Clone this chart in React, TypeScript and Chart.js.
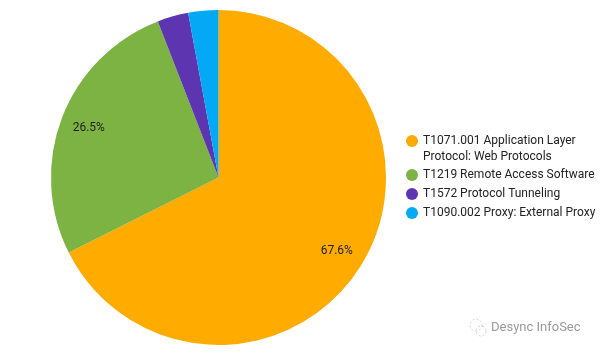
import React, { useEffect, useRef } from "react";
import { Chart, registerables } from "chart.js";

Chart.register(...registerables);

const categories = [
  "T1071.001 Application Layer Protocol: Web Protocols",
  "T1219 Remote Access Software",
  "T1572 Protocol Tunneling",
  "T1090.002 Proxy: External Proxy",
];
const legendLines = [
  ["T1071.001 Application Layer", "Protocol: Web Protocols"],
  ["T1219 Remote Access Software"],
  ["T1572 Protocol Tunneling"],
  ["T1090.002 Proxy: External Proxy"],
];
const values = [67.6, 26.5, 3.0, 2.9];
const shownLabels = ["67.6%", "26.5%", "", ""];
const colors = ["#FFAB00", "#7CB342", "#5E35B1", "#03A9F4"];
const watermark = "Desync InfoSec";

const FONT = "Roboto, 'Noto Sans', sans-serif";

const overlayPlugin = {
  id: "overlay",
  afterDraw(chart: any) {
    const ctx = chart.ctx as CanvasRenderingContext2D;
    const meta = chart.getDatasetMeta(0);
    ctx.save();
    // slice labels
    ctx.font = `12px ${FONT}`;
    ctx.fillStyle = "#222222";
    ctx.textAlign = "center";
    ctx.textBaseline = "middle";
    meta.data.forEach((arc: any, i: number) => {
      const t = shownLabels[i];
      if (!t) return;
      const { x, y, startAngle, endAngle, outerRadius } = arc.getProps(
        ["x", "y", "startAngle", "endAngle", "outerRadius"],
        true
      );
      const mid = (startAngle + endAngle) / 2;
      const r = outerRadius * 0.83;
      ctx.fillText(t, x + Math.cos(mid) * r, y + Math.sin(mid) * r);
    });
    // legend
    const lx = 412;
    const tx = 423;
    const ys = [141, 175, 194, 213];
    ctx.textAlign = "left";
    ctx.font = `12px ${FONT}`;
    legendLines.forEach((lines, i) => {
      const y0 = ys[i];
      ctx.beginPath();
      ctx.arc(lx, y0, 6, 0, Math.PI * 2);
      ctx.fillStyle = colors[i];
      ctx.fill();
      ctx.fillStyle = "#222222";
      lines.forEach((ln, j) => ctx.fillText(ln, tx, y0 + j * 16));
    });
    // watermark
    ctx.font = `13px ${FONT}`;
    ctx.fillStyle = "#9a9a9a";
    ctx.fillText(watermark, 491, 328);
    ctx.strokeStyle = "#d0d0d0";
    ctx.lineWidth = 1;
    ctx.setLineDash([2, 2]);
    ctx.beginPath();
    ctx.arc(476, 325, 6, 0, Math.PI * 2);
    ctx.stroke();
    ctx.beginPath();
    ctx.arc(481, 331, 5, 0, Math.PI * 2);
    ctx.stroke();
    ctx.restore();
  },
};

export default function App() {
  const ref = useRef<HTMLCanvasElement | null>(null);
  useEffect(() => {
    if (!ref.current) return;
    const chart = new Chart(ref.current, {
      type: "pie",
      data: {
        labels: categories,
        datasets: [
          {
            data: values,
            backgroundColor: colors,
            borderWidth: 0,
            hoverOffset: 0,
          },
        ],
      },
      options: {
        responsive: false,
        animation: false,
        layout: { padding: { left: 51, right: 228, top: 10, bottom: 12 } },
        plugins: {
          legend: { display: false },
          tooltip: { enabled: false },
        },
      },
      plugins: [overlayPlugin],
    });
    return () => chart.destroy();
  }, []);
  return (
    <div style={{ position: "fixed", left: 0, top: 0, width: 614, height: 357, background: "#fff" }}>
      <canvas ref={ref} width={614} height={357} />
    </div>
  );
}
